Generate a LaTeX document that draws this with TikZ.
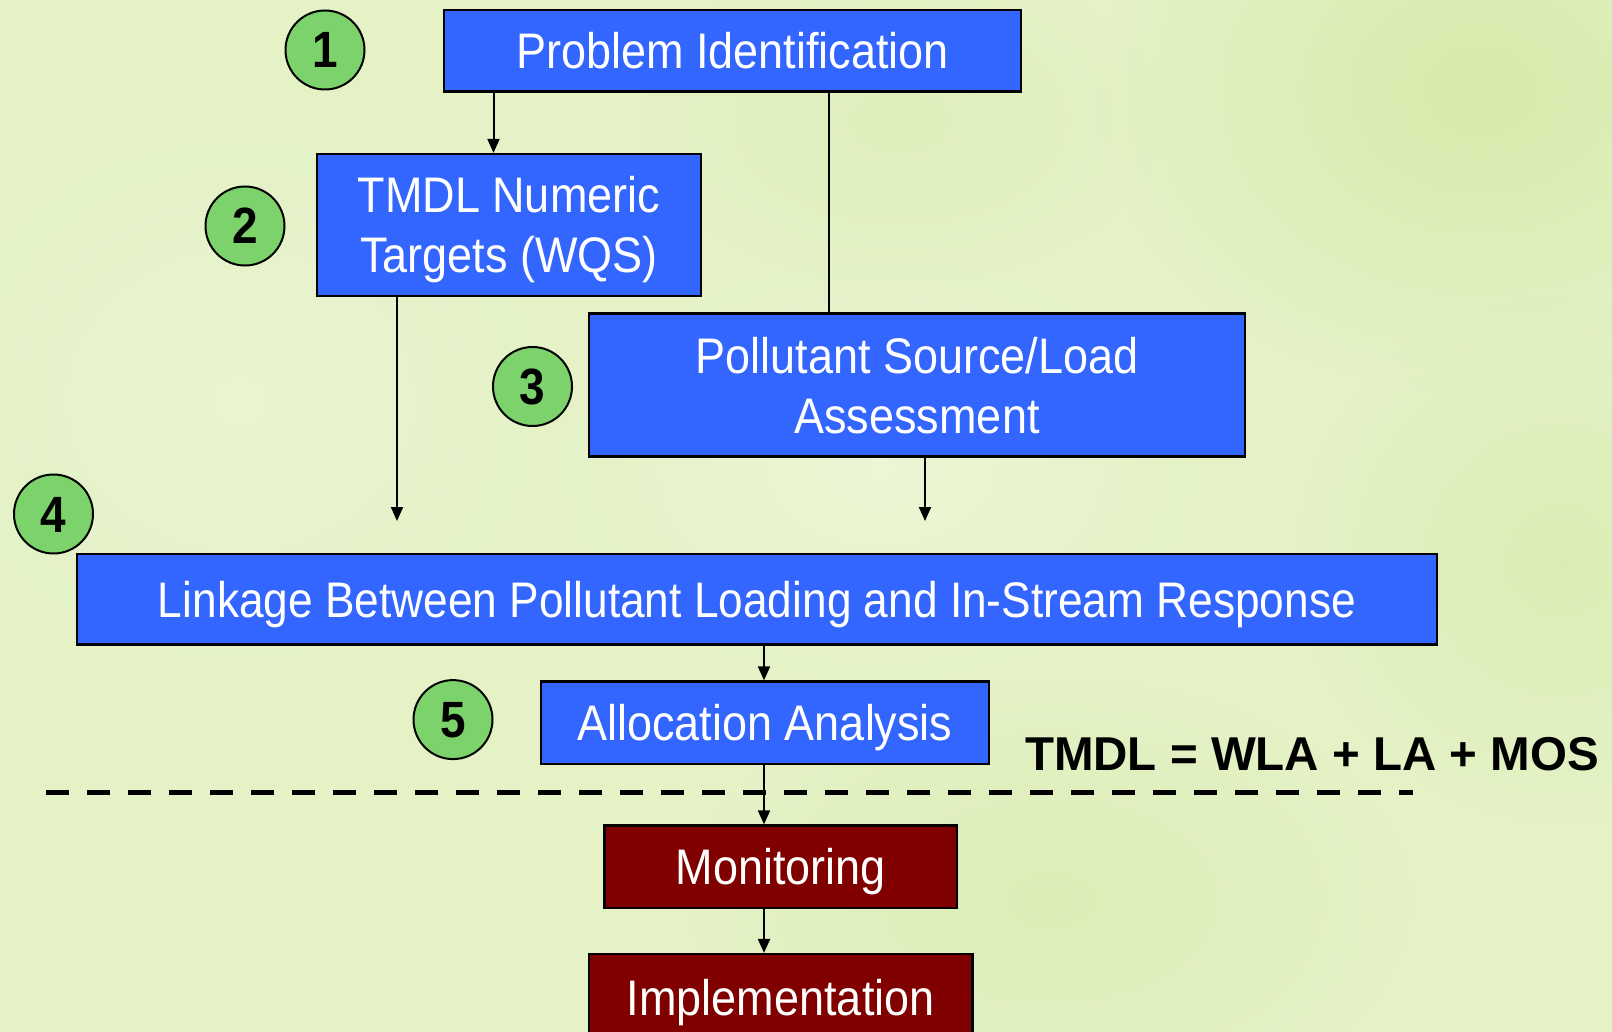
\documentclass[tikz,border=0pt]{standalone}
\usepackage{fontspec}
\setmainfont{Liberation Sans}
\newfontfamily\narrowfont{Liberation Sans}[FakeStretch=0.9]
\usetikzlibrary{arrows.meta,fadings}

\definecolor{paper}{HTML}{E4F2C6}
\definecolor{paperdark}{HTML}{D3E8A2}
\definecolor{paperlight}{HTML}{F0F8DC}
\definecolor{stepblue}{HTML}{3366FF}
\definecolor{stepred}{HTML}{800000}
\definecolor{badgegreen}{HTML}{7DD36B}

\tikzfading[name=softspot, inner color=transparent!0, outer color=transparent!100]

\tikzset{
  stepbox/.style={draw=black, line width=2.2pt, fill=stepblue, text=white,
    inner sep=0pt, align=center,
    font={\narrowfont\fontsize{50}{60}\selectfont}},
  oneline/.style={text height=36pt, text depth=0pt},
  twoline/.style={text height=96pt, text depth=0pt},
  laterbox/.style={stepbox, fill=stepred},
  badge/.style={circle, draw=black, line width=2pt, fill=badgegreen,
    minimum size=79pt, inner sep=0pt, text height=36pt, text depth=0pt,
    font={\narrowfont\bfseries\fontsize{51}{60}\selectfont}},
  flow/.style={line width=2pt, -{Triangle[width=12pt,length=14pt]}},
  plainline/.style={line width=2pt},
  spot/.style={path fading=softspot},
}

\begin{document}
\begin{tikzpicture}[x=1pt, y=-1pt]
  \useasboundingbox (0,0) rectangle (1612,1032);
  \clip (0,0) rectangle (1612,1032);

  % soft green backdrop
  \fill[paper] (0,0) rectangle (1612,1032);
  \fill[paperdark, opacity=0.75, spot] (1480,90) ellipse (380pt and 300pt);
  \fill[paperdark, opacity=0.5, spot] (1560,560) ellipse (260pt and 260pt);
  \fill[paperdark, opacity=0.45, spot] (1050,900) ellipse (360pt and 220pt);
  \fill[paperdark, opacity=0.3, spot] (900,120) ellipse (260pt and 160pt);
  \fill[paperlight, opacity=0.7, spot] (880,470) ellipse (330pt and 220pt);
  \fill[paperlight, opacity=0.5, spot] (240,400) ellipse (320pt and 280pt);

  % process steps
  \node[stepbox, oneline, minimum width=577pt, minimum height=81.5pt]
        (pi) at (732.5,50.75) {Problem Identification};
  \node[stepbox, twoline, minimum width=384.4pt, minimum height=142pt]
        (tmdl) at (508.8,225) {TMDL Numeric\\Targets (WQS)};
  \node[stepbox, twoline, minimum width=656pt, minimum height=143pt]
        (pol) at (917,385) {Pollutant Source/Load\\Assessment};
  \node[stepbox, oneline, minimum width=1360pt, minimum height=90.5pt]
        (link) at (757,599.25)
        {\addfontfeature{FakeStretch=0.885}Linkage Between Pollutant Loading and In-Stream Response};
  \node[stepbox, oneline, minimum width=448pt, minimum height=82.5pt]
        (alloc) at (765,722.75) {Allocation Analysis};
  \node[laterbox, oneline, minimum width=352.5pt, minimum height=82.5pt]
        (mon) at (780.75,866.75) {Monitoring};
  \node[laterbox, oneline, minimum width=383.5pt, minimum height=86pt]
        (impl) at (780.75,997) {Implementation};

  % step numbers
  \node[badge] (b1) at (325,50) {1};
  \node[badge] (b2) at (245,226) {2};
  \node[badge] (b3) at (532.5,386.5) {3};
  \node[badge] (b4) at (53.5,514) {4};
  \node[badge] (b5) at (453,719.6) {5};

  % load equation
  \node[font={\bfseries\fontsize{47.5}{57}\selectfont}, inner sep=0pt,
        text height=34pt, text depth=0pt] (eq) at (1312,753.5)
        {TMDL = WLA + LA + MOS};

  % planning / implementation divide
  \coordinate (dashL) at (46,792.5);
  \coordinate (dashR) at (1413,792.5);
  \draw[line width=5pt, dash pattern=on 23pt off 18pt] (dashL) -- (dashR);

  % connectors
  \coordinate (piL) at ([xshift=-239pt]pi.south);
  \coordinate (piR) at ([xshift=96pt]pi.south);
  \coordinate (endA) at (397,521);
  \coordinate (endB) at (925,521);
  \coordinate (spine) at (764,0);

  \draw[flow] (piL) -- (piL |- tmdl.north);
  \draw[plainline] (piR) -- (piR |- pol.north);
  \draw[flow] (endA |- tmdl.south) -- (endA);
  \draw[flow] (endB |- pol.south) -- (endB);
  \draw[flow] (spine |- link.south) -- (spine |- alloc.north);
  \draw[flow] (spine |- alloc.south) -- (spine |- mon.north);
  \draw[flow] (spine |- mon.south) -- (spine |- impl.north);
\end{tikzpicture}
\end{document}
